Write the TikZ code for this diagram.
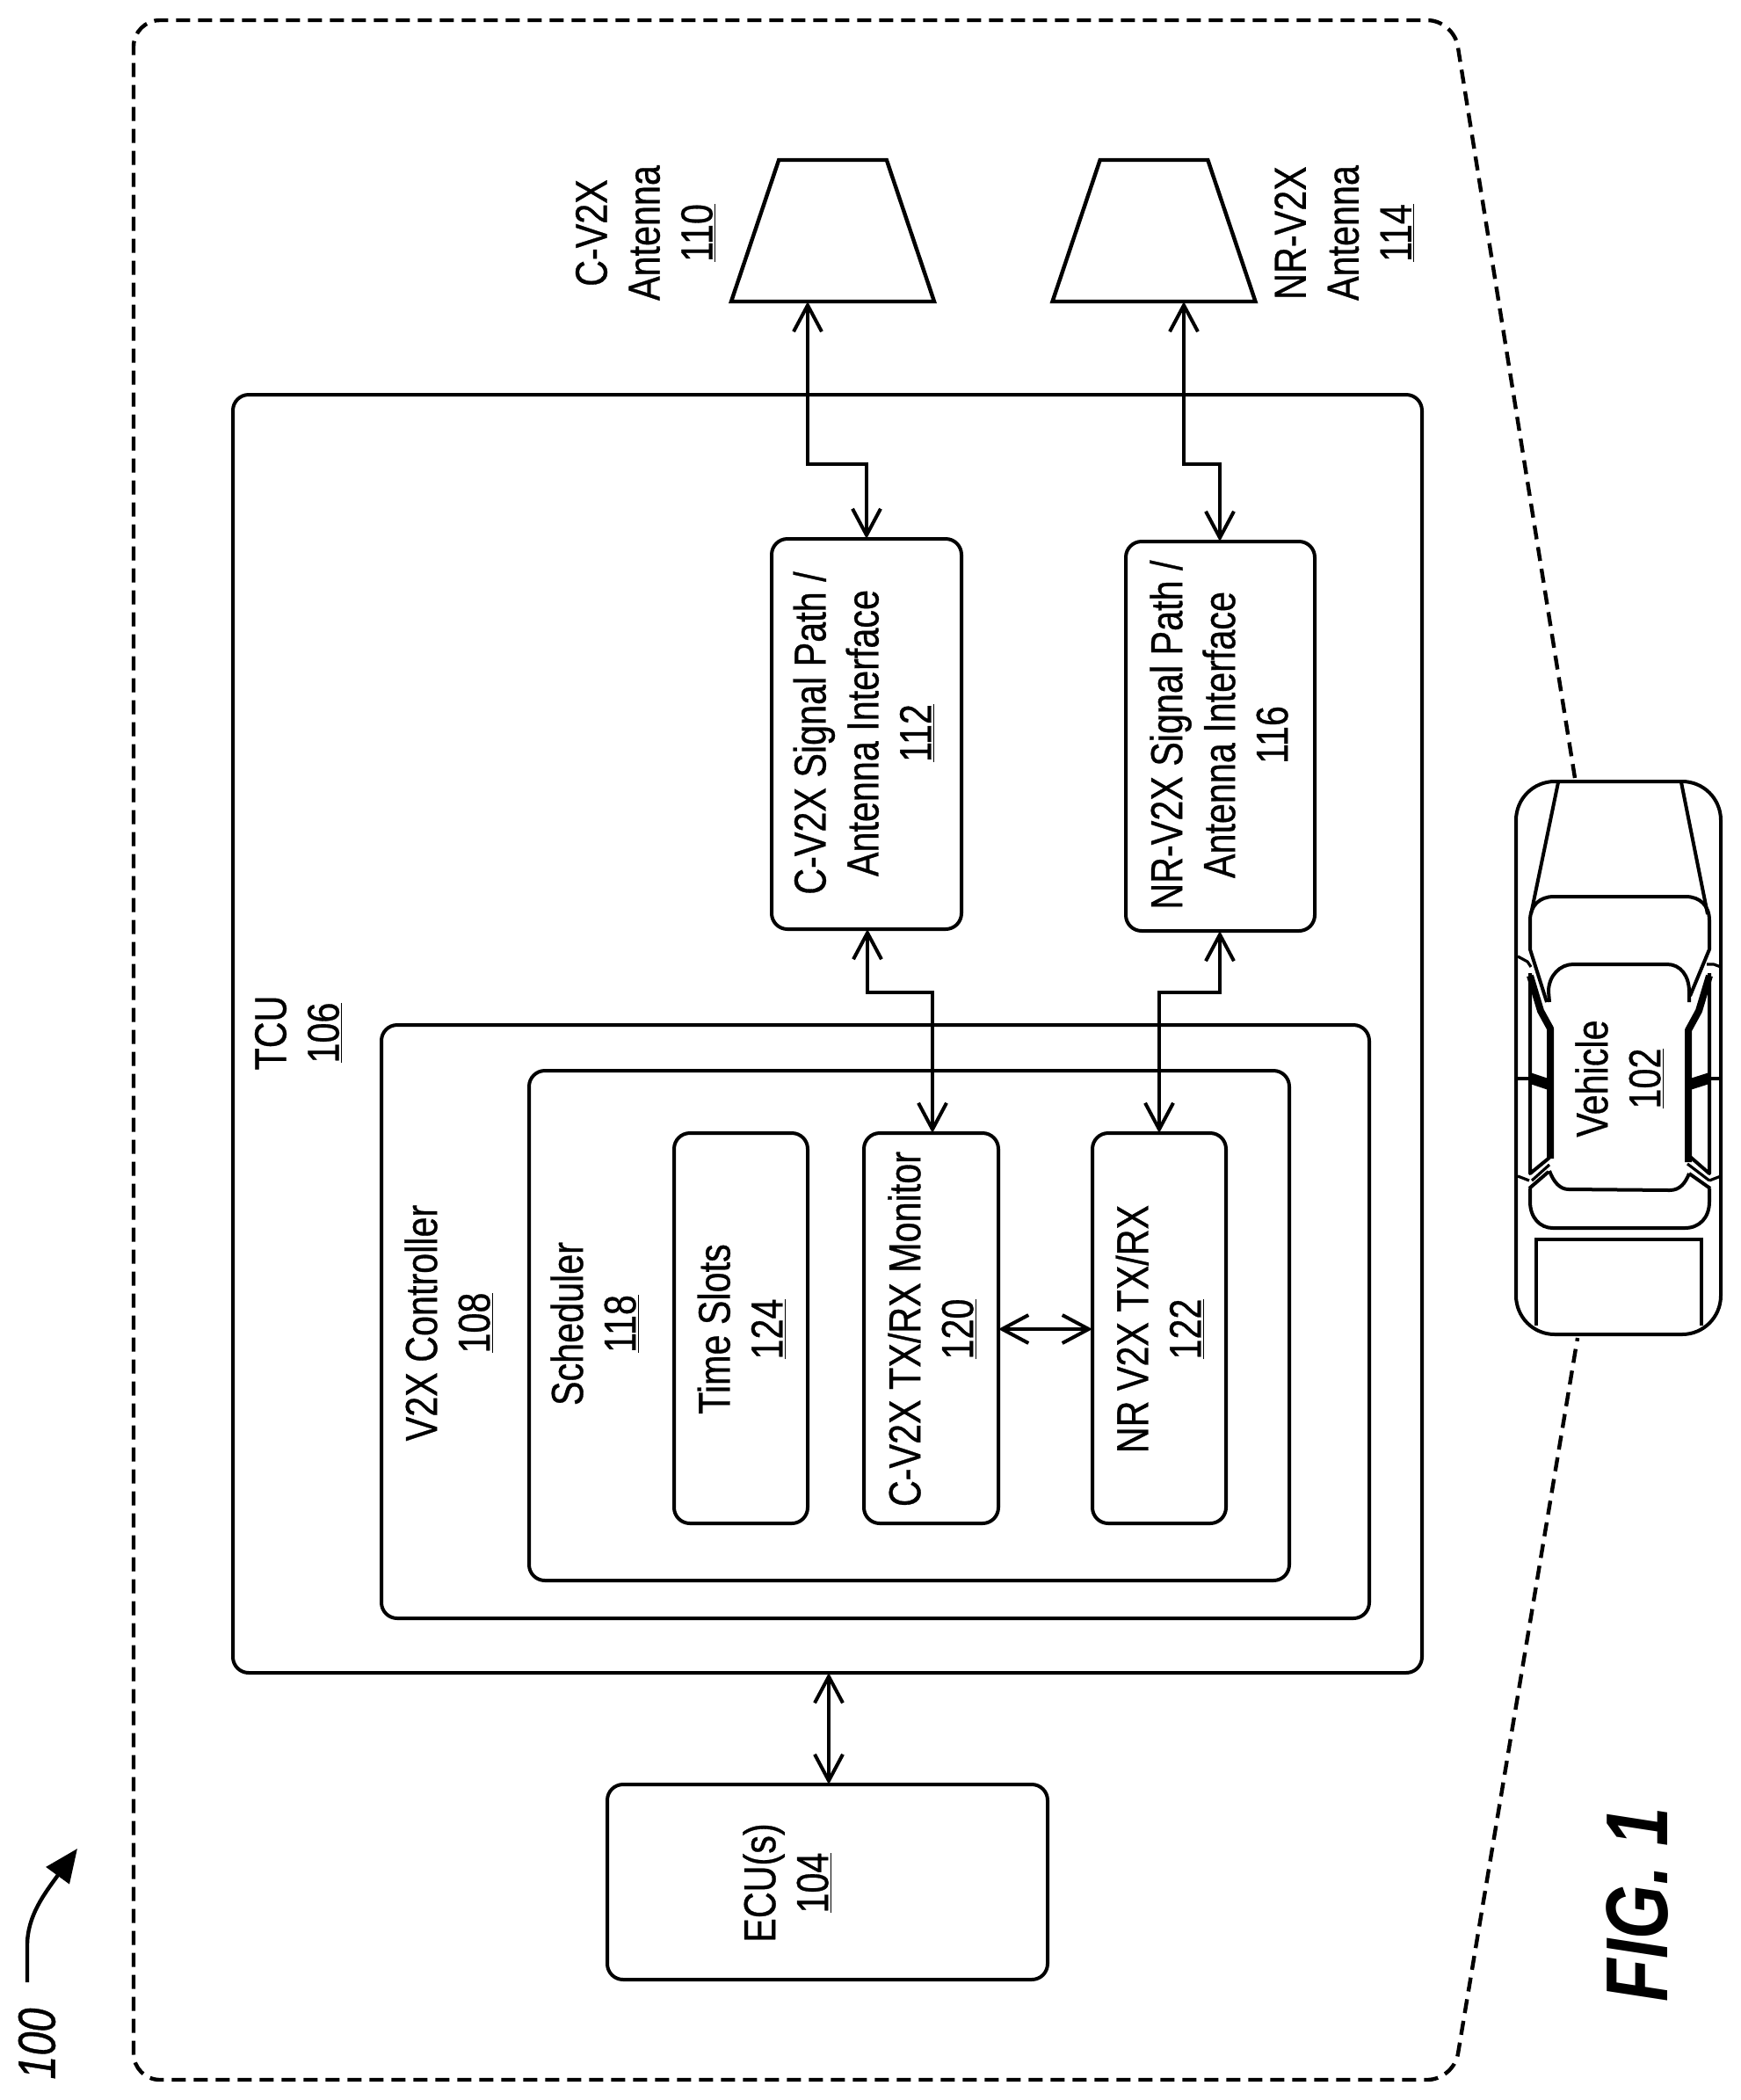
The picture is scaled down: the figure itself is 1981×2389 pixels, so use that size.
\documentclass[tikz,border=0pt]{standalone}
\usepackage{fontspec}
\setmainfont[FakeStretch=0.81,FakeBold=0.6]{Liberation Sans}
\newfontfamily\figfont[FakeStretch=0.795]{Liberation Sans}
\usetikzlibrary{arrows.meta,shapes.geometric}
\newcommand{\boxnode}[6]{%
  \pgfmathsetmacro{\bcx}{(#2+#4)/2}\pgfmathsetmacro{\bcy}{(#3+#5)/2}%
  \pgfmathsetmacro{\bw}{(#4-#2)*0.5}\pgfmathsetmacro{\bh}{(#5-#3)*0.5}%
  \node[#6,minimum width=\bw pt,minimum height=\bh pt] (#1) at (\bcx,\bcy) {};}
\tikzset{
  blockbox/.style={draw,line width=2pt,rounded corners=9pt,inner sep=0pt,outer sep=0pt},
  antennabox/.style={draw,line width=2.2pt,trapezium,trapezium stretches=true,trapezium angle=71.3,inner sep=0pt,outer sep=0pt,minimum width=115.5pt,minimum height=80.5pt},
  lbl/.style={rotate=90,align=center,inner sep=0pt,font=\fontsize{25.5}{30}\selectfont},
  bi/.style={line width=2pt,{Straight Barb[length=15pt,width=16pt,line width=2pt]}-{Straight Barb[length=15pt,width=16pt,line width=2pt]}},
  carline/.style={line width=2pt,line join=round},
  carthin/.style={line width=1.6pt,line join=round},
  carthick/.style={line width=4pt,line join=round},
  boundary/.style={line width=2.2pt,dash pattern=on 8pt off 4.5pt,rounded corners=15pt}
}
\begin{document}
\begin{tikzpicture}[x=0.5pt,y=-0.5pt]
\useasboundingbox (0,0) rectangle (1981,2389);
% boundary
\draw[boundary] (1792,885) -- (1654,23) -- (152,23) -- (152,2366) -- (1654,2366) -- (1795,1522);
% reference arrow
\node[rotate=90,inner sep=0pt,font=\fontsize{30}{30}\selectfont\itshape] (ref) at (42,2325) {100};
\coordinate (refstart) at (31,2255);
\coordinate (reftip) at (88,2103);
\draw[line width=2.2pt,-{Triangle[length=19pt,width=16pt]}] (refstart) -- (31,2213) .. controls (31,2180) and (50,2155) .. (reftip);
% blocks
\boxnode{tcu}{265}{449}{1618}{1903}{blockbox}
\boxnode{ctrl}{434}{1166}{1558}{1841}{blockbox}
\boxnode{sched}{602}{1218}{1467}{1798}{blockbox}
\boxnode{slots}{767}{1289}{919}{1733}{blockbox}
\boxnode{mon}{983}{1289}{1136}{1733}{blockbox}
\boxnode{nrtx}{1243}{1289}{1395}{1733}{blockbox}
\boxnode{cpath}{878}{613}{1094}{1057}{blockbox}
\boxnode{npath}{1281}{616}{1496}{1059}{blockbox}
\boxnode{ecu}{691}{2030}{1192}{2252}{blockbox}
\node[antennabox] (ant1) at (947.5,262.5) {\phantom{x}};
\node[antennabox] (ant2) at (1313,262.5) {\phantom{x}};
% labels
\node[lbl] (t110) at (735,265) {C-V2X\\Antenna\\\underline{110}};
\node[lbl] (t114) at (1530,265) {NR-V2X\\Antenna\\\underline{114}};
\node[lbl] (t106) at (340,1175) {TCU\\\underline{106}};
\node[lbl] (t108) at (511,1505) {V2X Controller\\\underline{108}};
\node[lbl] (t118) at (677,1506) {Scheduler\\\underline{118}};
\node[lbl] (t124) at (844,1512) {Time Slots\\\underline{124}};
\node[lbl] (t120) at (1061,1512) {C-V2X TX/RX Monitor\\\underline{120}};
\node[lbl] (t122) at (1320,1512) {NR V2X TX/RX\\\underline{122}};
\node[lbl] (t112) at (983,834) {C-V2X Signal Path /\\Antenna Interface\\\underline{112}};
\node[lbl] (t116) at (1387,836) {NR-V2X Signal Path /\\Antenna Interface\\116};
\node[lbl] (t104) at (896,2142) {ECU(s)\\\underline{104}};
% connectors
\coordinate (a1) at (919,528); \coordinate (a2) at (986,528);
\draw[bi] (ant1.bottom side -| a1) -- (a1) -- (a2) -- (a2 |- cpath.north);
\coordinate (b1) at (1347,528); \coordinate (b2) at (1388,528);
\draw[bi] (ant2.bottom side -| b1) -- (b1) -- (b2) -- (b2 |- npath.north);
\coordinate (c1) at (987,1129); \coordinate (c2) at (1061,1129);
\draw[bi] (c1 |- cpath.south) -- (c1) -- (c2) -- (c2 |- mon.north);
\coordinate (d1) at (1388,1129); \coordinate (d2) at (1319,1129);
\draw[bi] (d1 |- npath.south) -- (d1) -- (d2) -- (d2 |- nrtx.north);
\coordinate (m1) at (1190,1512);
\draw[bi] (m1 -| mon.east) -- (m1 -| nrtx.west);
\coordinate (e1) at (943,1970);
\draw[bi] (e1 |- tcu.south) -- (e1 |- ecu.north);
% car
\draw[carline,rounded corners=22pt] (1725,1200) -- (1725,889) -- (1958,889) -- (1958,1518) -- (1725,1518) -- (1725,1200);
\draw[carline] (1773,890) -- (1742,1040);
\draw[carline] (1913,890) -- (1943,1040);
\draw[carline] (1760,1140) -- (1741,1080) -- (1741,1047) .. controls (1741,1030) and (1752,1020) .. (1768,1020) -- (1918,1020) .. controls (1934,1020) and (1945,1030) .. (1945,1047) -- (1945,1080) -- (1923,1133);
\draw[carline] (1763,1140) -- (1762,1128) .. controls (1762,1110) and (1775,1097) .. (1790,1097) -- (1897,1097) .. controls (1912,1097) and (1922,1110) .. (1922,1128) -- (1922,1140);
\draw[carline] (1763,1332) .. controls (1768,1345) and (1775,1353) .. (1785,1353) -- (1900,1354) .. controls (1912,1354) and (1918,1345) .. (1922,1335);
\draw[carthick] (1741,1110) -- (1753,1150) -- (1764,1170) -- (1764,1318);
\draw[carthick] (1945,1110) -- (1933,1150) -- (1921,1172) -- (1921,1322);
\draw[carline] (1741,1107) -- (1741,1335) -- (1763,1317);
\draw[carline] (1945,1107) -- (1945,1335) -- (1922,1315);
\draw[carthin] (1743,1343) -- (1763,1325);
\draw[carthin] (1945,1343) -- (1920,1324);
\draw[carline] (1740,1352) -- (1762,1333);
\draw[carline] (1946,1352) -- (1922,1335);
\draw[carline] (1741,1352) -- (1741,1367) .. controls (1741,1385) and (1752,1397) .. (1767,1397) -- (1917,1397) .. controls (1934,1397) and (1945,1385) .. (1945,1367) -- (1945,1352);
\fill (1741,1220) -- (1762,1227) -- (1762,1240) -- (1741,1233) -- cycle;
\fill (1945,1220) -- (1923,1227) -- (1923,1240) -- (1945,1233) -- cycle;
\draw[carthin] (1725,1227) -- (1741,1227);
\draw[carthin] (1945,1227) -- (1958,1227);
\draw[carthin] (1727,1088) -- (1738,1094) -- (1742,1100);
\draw[carthin] (1942,1097) -- (1950,1097) -- (1958,1100);
\draw[carthin] (1727,1338) -- (1740,1343);
\draw[carthin] (1945,1343) -- (1958,1338);
\draw[line width=2.4pt] (1748,1508) -- (1748,1410) -- (1936,1410) -- (1936,1508);
\node[lbl] (t102) at (1843,1227) {Vehicle\\\underline{102}};
\node[rotate=90,inner sep=0pt,font=\figfont\fontsize{50}{50}\selectfont\bfseries\itshape] (figlabel) at (1863,2167) {FIG. 1};
\end{tikzpicture}
\end{document}
